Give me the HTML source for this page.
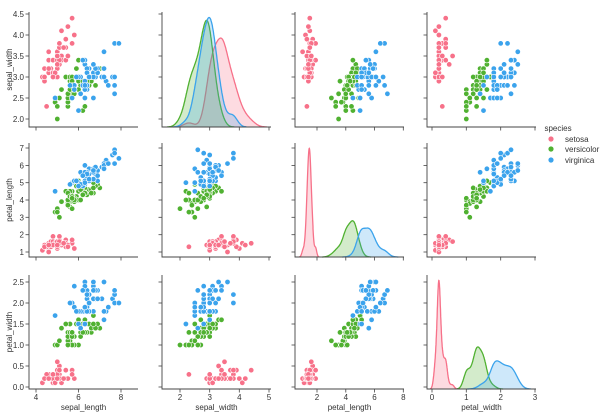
<!DOCTYPE html>
<html><head><meta charset="utf-8">
<style>
html,body{margin:0;padding:0;background:#fff;}
svg{display:block;font-family:"Liberation Sans",sans-serif;}
</style></head>
<body>
<svg id="s" width="600" height="418" viewBox="0 0 600 418" xmlns="http://www.w3.org/2000/svg">
<g fill="#333" font-size="8">
<text x="83.5" y="410" text-anchor="middle">sepal_length</text>
<text x="216.5" y="410" text-anchor="middle">sepal_width</text>
<text x="349.5" y="410" text-anchor="middle">petal_length</text>
<text x="481.5" y="410" text-anchor="middle">petal_width</text>
<text transform="translate(12,69.5) rotate(-90)" text-anchor="middle">sepal_width</text>
<text transform="translate(12,200) rotate(-90)" text-anchor="middle">petal_length</text>
<text transform="translate(12,332) rotate(-90)" text-anchor="middle">petal_width</text>
<text x="558" y="131" text-anchor="middle">species</text>
<text x="565" y="142">setosa</text>
<text x="565" y="152">versicolor</text>
<text x="565" y="163">virginica</text>
</g>
<circle cx="551" cy="139" r="2.6" fill="#f77189"/>
<circle cx="551" cy="149" r="2.6" fill="#50b131"/>
<circle cx="551" cy="160" r="2.6" fill="#3ba3ec"/>
<g id="plots"></g>
</svg>
<script>
(function(){
var D=[
[5.1,3.5,1.4,0.2],[4.9,3.0,1.4,0.2],[4.7,3.2,1.3,0.2],[4.6,3.1,1.5,0.2],[5.0,3.6,1.4,0.2],[5.4,3.9,1.7,0.4],[4.6,3.4,1.4,0.3],[5.0,3.4,1.5,0.2],[4.4,2.9,1.4,0.2],[4.9,3.1,1.5,0.1],[5.4,3.7,1.5,0.2],[4.8,3.4,1.6,0.2],[4.8,3.0,1.4,0.1],[4.3,3.0,1.1,0.1],[5.8,4.0,1.2,0.2],[5.7,4.4,1.5,0.4],[5.4,3.9,1.3,0.4],[5.1,3.5,1.4,0.3],[5.7,3.8,1.7,0.3],[5.1,3.8,1.5,0.3],[5.4,3.4,1.7,0.2],[5.1,3.7,1.5,0.4],[4.6,3.6,1.0,0.2],[5.1,3.3,1.7,0.5],[4.8,3.4,1.9,0.2],[5.0,3.0,1.6,0.2],[5.0,3.4,1.6,0.4],[5.2,3.5,1.5,0.2],[5.2,3.4,1.4,0.2],[4.7,3.2,1.6,0.2],[4.8,3.1,1.6,0.2],[5.4,3.4,1.5,0.4],[5.2,4.1,1.5,0.1],[5.5,4.2,1.4,0.2],[4.9,3.1,1.5,0.1],[5.0,3.2,1.2,0.2],[5.5,3.5,1.3,0.2],[4.9,3.1,1.5,0.1],[4.4,3.0,1.3,0.2],[5.1,3.4,1.5,0.2],[5.0,3.5,1.3,0.3],[4.5,2.3,1.3,0.3],[4.4,3.2,1.3,0.2],[5.0,3.5,1.6,0.6],[5.1,3.8,1.9,0.4],[4.8,3.0,1.4,0.3],[5.1,3.8,1.6,0.2],[4.6,3.2,1.4,0.2],[5.3,3.7,1.5,0.2],[5.0,3.3,1.4,0.2],
[7.0,3.2,4.7,1.4],[6.4,3.2,4.5,1.5],[6.9,3.1,4.9,1.5],[5.5,2.3,4.0,1.3],[6.5,2.8,4.6,1.5],[5.7,2.8,4.5,1.3],[6.3,3.3,4.7,1.6],[4.9,2.4,3.3,1.0],[6.6,2.9,4.6,1.3],[5.2,2.7,3.9,1.4],[5.0,2.0,3.5,1.0],[5.9,3.0,4.2,1.5],[6.0,2.2,4.0,1.0],[6.1,2.9,4.7,1.4],[5.6,2.9,3.6,1.3],[6.7,3.1,4.4,1.4],[5.6,3.0,4.5,1.5],[5.8,2.7,4.1,1.0],[6.2,2.2,4.5,1.5],[5.6,2.5,3.9,1.1],[5.9,3.2,4.8,1.8],[6.1,2.8,4.0,1.3],[6.3,2.5,4.9,1.5],[6.1,2.8,4.7,1.2],[6.4,2.9,4.3,1.3],[6.6,3.0,4.4,1.4],[6.8,2.8,4.8,1.4],[6.7,3.0,5.0,1.7],[6.0,2.9,4.5,1.5],[5.7,2.6,3.5,1.0],[5.5,2.4,3.8,1.1],[5.5,2.4,3.7,1.0],[5.8,2.7,3.9,1.2],[6.0,2.7,5.1,1.6],[5.4,3.0,4.5,1.5],[6.0,3.4,4.5,1.6],[6.7,3.1,4.7,1.5],[6.3,2.3,4.4,1.3],[5.6,3.0,4.1,1.3],[5.5,2.5,4.0,1.3],[5.5,2.6,4.4,1.2],[6.1,3.0,4.6,1.4],[5.8,2.6,4.0,1.2],[5.0,2.3,3.3,1.0],[5.6,2.7,4.2,1.3],[5.7,3.0,4.2,1.2],[5.7,2.9,4.2,1.3],[6.2,2.9,4.3,1.3],[5.1,2.5,3.0,1.1],[5.7,2.8,4.1,1.3],
[6.3,3.3,6.0,2.5],[5.8,2.7,5.1,1.9],[7.1,3.0,5.9,2.1],[6.3,2.9,5.6,1.8],[6.5,3.0,5.8,2.2],[7.6,3.0,6.6,2.1],[4.9,2.5,4.5,1.7],[7.3,2.9,6.3,1.8],[6.7,2.5,5.8,1.8],[7.2,3.6,6.1,2.5],[6.5,3.2,5.1,2.0],[6.4,2.7,5.3,1.9],[6.8,3.0,5.5,2.1],[5.7,2.5,5.0,2.0],[5.8,2.8,5.1,2.4],[6.4,3.2,5.3,2.3],[6.5,3.0,5.5,1.8],[7.7,3.8,6.7,2.2],[7.7,2.6,6.9,2.3],[6.0,2.2,5.0,1.5],[6.9,3.2,5.7,2.3],[5.6,2.8,4.9,2.0],[7.7,2.8,6.7,2.0],[6.3,2.7,4.9,1.8],[6.7,3.3,5.7,2.1],[7.2,3.2,6.0,1.8],[6.2,2.8,4.8,1.8],[6.1,3.0,4.9,1.8],[6.4,2.8,5.6,2.1],[7.2,3.0,5.8,1.6],[7.4,2.8,6.1,1.9],[7.9,3.8,6.4,2.0],[6.4,2.8,5.6,2.2],[6.3,2.8,5.1,1.5],[6.1,2.6,5.6,1.4],[7.7,3.0,6.1,2.3],[6.3,3.4,5.6,2.4],[6.4,3.1,5.5,1.8],[6.0,3.0,4.8,1.8],[6.9,3.1,5.4,2.1],[6.7,3.1,5.6,2.4],[6.9,3.1,5.1,2.3],[5.8,2.7,5.1,1.9],[6.8,3.2,5.9,2.3],[6.7,3.3,5.7,2.5],[6.7,3.0,5.2,2.3],[6.3,2.5,5.0,1.9],[6.5,3.0,5.2,2.0],[6.2,3.4,5.4,2.3],[5.9,3.0,5.1,1.8]];
var C=["#f77189","#50b131","#3ba3ec"];
var XM=[function(v){return 36+(v-4)*21.25},function(v){return 180+(v-2)*29.67},function(v){return 317+(v-2)*14.375},function(v){return 432+v*34.33}];
var XB=[[29,138],[162,271],[295,404],[427,536]];
var XT=[[4,6,8],[2,3,4,5],[2,4,6,8],[0,1,2,3]];
var YM=[function(v){return 119-(v-2)*42},function(v){return 252-(v-1)*17.33},function(v){return 387-v*42}];
var YB=[[12,127],[143,257],[275,389]];
var YT=[[2,2.5,3,3.5,4,4.5],[1,2,3,4,5,6,7],[0,0.5,1,1.5,2,2.5]];
var YL=[["2.0","2.5","3.0","3.5","4.0","4.5"],["1","2","3","4","5","6","7"],["0.0","0.5","1.0","1.5","2.0","2.5"]];
var h='';
for(var r=0;r<3;r++){for(var c=0;c<4;c++){
 var x0=XB[c][0],x1=XB[c][1],y0=YB[r][0],y1=YB[r][1];
 var vy=r+1;
 if(c!==vy){
  for(var i=0;i<150;i++){var g=Math.floor(i/50);
   h+='<circle cx="'+XM[c](D[i][c]).toFixed(1)+'" cy="'+YM[r](D[i][vy]).toFixed(1)+'" r="2.7" fill="'+C[g]+'" stroke="#fff" stroke-width="0.6"/>';}
 } else {
  var curves=[],mx=0;
  for(var g=0;g<3;g++){
   var a=[];for(var i=g*50;i<g*50+50;i++)a.push(D[i][c]);
   var m=a.reduce(function(s,q){return s+q},0)/50;
   var sd=Math.sqrt(a.reduce(function(s,q){return s+(q-m)*(q-m)},0)/49);
   var bw=sd*Math.pow(50,-0.2);
   var lo=Math.min.apply(null,a)-3*bw,hi=Math.max.apply(null,a)+3*bw;
   var pts=[];
   for(var k=0;k<=200;k++){var x=lo+(hi-lo)*k/200,d=0;
    for(var j=0;j<50;j++){var z=(x-a[j])/bw;d+=Math.exp(-0.5*z*z);}
    d=d/(50*bw*Math.sqrt(2*Math.PI))/3;if(d>mx)mx=d;pts.push([x,d]);}
   curves.push(pts);
  }
  var ytop=mx*1.05;
  for(var g=0;g<3;g++){
   var pp=curves[g].map(function(q){return XM[c](q[0]).toFixed(1)+','+(y1-q[1]/ytop*(y1-y0)).toFixed(1)}).join(' ');
   var f=XM[c](curves[g][0][0]).toFixed(1),l=XM[c](curves[g][200][0]).toFixed(1);
   h+='<polygon points="'+f+','+y1+' '+pp+' '+l+','+y1+'" fill="'+C[g]+'" fill-opacity="0.25"/>';
   h+='<polyline points="'+pp+'" fill="none" stroke="'+C[g]+'" stroke-width="1.3"/>';
  }
 }
 h+='<path d="M'+x0+','+y0+'V'+y1+'H'+x1+'" fill="none" stroke="#444" stroke-width="0.9"/>';
 XT[c].forEach(function(t){var x=XM[c](t).toFixed(1);h+='<line x1="'+x+'" x2="'+x+'" y1="'+y1+'" y2="'+(y1+3.5)+'" stroke="#444" stroke-width="0.8"/>';
  if(r===2)h+='<text x="'+x+'" y="400" text-anchor="middle" font-size="8" fill="#333">'+t+'</text>';});
 YT[r].forEach(function(t,ii){var y=YM[r](t).toFixed(1);h+='<line x1="'+(x0-3.5)+'" x2="'+x0+'" y1="'+y+'" y2="'+y+'" stroke="#444" stroke-width="0.8"/>';
  if(c===0)h+='<text x="'+(x0-5)+'" y="'+(+y+3)+'" text-anchor="end" font-size="8" fill="#333">'+YL[r][ii]+'</text>';});
}}
document.getElementById('plots').innerHTML=h;
})();
</script>
</body></html>
